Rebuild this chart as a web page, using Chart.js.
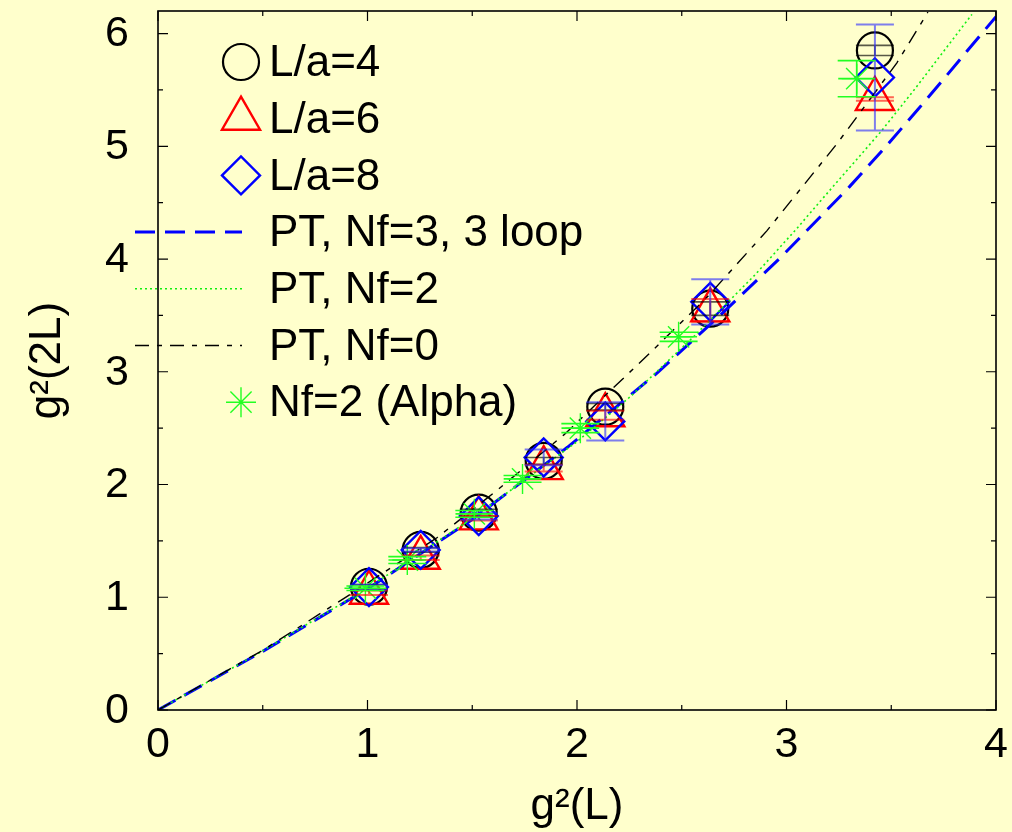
<!DOCTYPE html>
<html>
<head>
<meta charset="utf-8">
<title>g2(2L) vs g2(L)</title>
<script src="https://cdn.jsdelivr.net/npm/chart.js@4.4.1/dist/chart.umd.min.js"></script>
<style>
  html, body { margin: 0; padding: 0; background: #ffffcc; overflow: hidden; }
  #wrap { width: 1012px; height: 832px; }
  #stepChart { display: block; }
</style>
</head>
<body>
<div id="wrap"><canvas id="stepChart" width="1012" height="832"></canvas></div>
<script>
// coupling g^2(L) at which the step is measured (same for every L/a)
const couplingL = [1.007, 1.254, 1.531, 1.841, 2.135, 2.636, 3.422];

// g^2(2L) for each lattice size, with errors
const la4 = [1.093, 1.42, 1.75, 2.21, 2.69, 3.56, 5.85];
const la4Err = [0.02, 0.02, 0.03, 0.03, 0.03, 0.06, 0.045];
const la6 = [1.04, 1.35, 1.70, 2.145, 2.615, 3.545, 5.42];
const la6Err = [0.02, 0.02, 0.02, 0.03, 0.04, 0.1, 0.015];
const la8 = [1.09, 1.42, 1.72, 2.24, 2.56, 3.62, 5.61];
const la8Err = [0.02, 0.015, 0.03, 0.07, 0.17, 0.2, 0.47];

// ALPHA Nf=2 points (errors in both directions)
const alphaX = [0.99, 1.19, 1.51, 1.74, 2.016, 2.485, 3.335];
const alphaXErr = [0.1, 0.09, 0.09, 0.09, 0.09, 0.088, 0.088];
const alphaY = [1.08, 1.33, 1.74, 2.05, 2.50, 3.31, 5.60];
const alphaYErr = [0.02, 0.03, 0.03, 0.03, 0.04, 0.04, 0.16];

// perturbative curves
const pt3X = [0, 0.5, 1.0, 1.5, 1.954, 2.383, 2.683, 2.97, 3.30, 3.48, 3.629, 3.77, 3.86, 4.0];
const pt3Y = [0, 0.52, 1.075, 1.69, 2.33, 2.99, 3.50, 4.01, 4.64, 5.01, 5.33, 5.64, 5.84, 6.15];
const pt2X = [0, 0.5, 1.0, 1.5, 2.0, 2.255, 2.556, 2.85, 3.049, 3.16, 3.446, 3.605, 3.885];
const pt2Y = [0, 0.525, 1.08, 1.70, 2.38, 2.78, 3.31, 3.86, 4.27, 4.51, 5.12, 5.49, 6.17];
const pt0X = [0, 0.5, 0.888, 1.333, 1.619, 1.937, 2.35, 2.62, 2.906, 3.24, 3.527, 3.675];
const pt0Y = [0, 0.53, 0.99, 1.53, 1.95, 2.44, 3.17, 3.66, 4.25, 5.02, 5.74, 6.19];

// axis ticks that carry a label
const xLabels = [0, 1, 2, 3, 4];
const yLabels = [0, 1, 2, 3, 4, 5, 6];

const FONT = "'Liberation Sans', Arial, sans-serif";

const pts = (xs, ys) => xs.map((x, i) => ({x: x, y: ys[i]}));
const isHalf = v => Math.abs(v * 2 - Math.round(v * 2)) < 1e-6;
const isLabel = (list, v) => list.some(l => Math.abs(l - v) < 1e-6);

// error bars: vertical with caps, optional horizontal bar
const errorBars = {
  id: 'errorBars',
  afterDatasetsDraw(chart) {
    const {ctx, scales: {x, y}} = chart;
    ctx.save();
    chart.data.datasets.forEach(ds => {
      if (!ds.yErr) return;
      ctx.strokeStyle = ds.errColor;
      ctx.lineWidth = ds.errWidth;
      ctx.beginPath();
      ds.data.forEach((p, i) => {
        const px = x.getPixelForValue(p.x);
        const y1 = y.getPixelForValue(p.y + ds.yErr[i]);
        const y2 = y.getPixelForValue(p.y - ds.yErr[i]);
        const cap = 19;
        ctx.moveTo(px, y1); ctx.lineTo(px, y2);
        ctx.moveTo(px - cap, y1); ctx.lineTo(px + cap, y1);
        ctx.moveTo(px - cap, y2); ctx.lineTo(px + cap, y2);
        if (ds.xErr) {
          const py = y.getPixelForValue(p.y);
          ctx.moveTo(x.getPixelForValue(p.x - ds.xErr[i]), py);
          ctx.lineTo(x.getPixelForValue(p.x + ds.xErr[i]), py);
        }
      });
      ctx.stroke();
    });
    ctx.restore();
  }
};

// plot frame, inward ticks on all four sides, tick labels and titles
const frameTicks = {
  id: 'frameTicks',
  afterDraw(chart) {
    const {ctx, chartArea: a, scales: {x, y}} = chart;
    ctx.save();
    ctx.strokeStyle = '#000';
    ctx.lineWidth = 1.2;
    ctx.beginPath();
    x.ticks.forEach(t => {
      if (!isHalf(t.value)) return;
      const len = isLabel(xLabels, t.value) ? 10 : 5;
      const px = x.getPixelForValue(t.value);
      ctx.moveTo(px, a.bottom); ctx.lineTo(px, a.bottom - len);
      ctx.moveTo(px, a.top); ctx.lineTo(px, a.top + len);
    });
    y.ticks.forEach(t => {
      if (!isHalf(t.value)) return;
      const len = isLabel(yLabels, t.value) ? 10 : 5;
      const py = y.getPixelForValue(t.value);
      ctx.moveTo(a.left, py); ctx.lineTo(a.left + len, py);
      ctx.moveTo(a.right, py); ctx.lineTo(a.right - len, py);
    });
    ctx.stroke();
    ctx.lineWidth = 1.6;
    ctx.strokeRect(a.left, a.top, a.right - a.left, a.bottom - a.top);

    ctx.fillStyle = '#000';
    ctx.font = '43px ' + FONT;
    ctx.textBaseline = 'middle';
    ctx.textAlign = 'center';
    xLabels.forEach(v => ctx.fillText(String(v), x.getPixelForValue(v), a.bottom + 35));
    ctx.textAlign = 'right';
    yLabels.forEach(v => ctx.fillText(String(v), a.left - 29, y.getPixelForValue(v) + 1));

    // axis titles
    ctx.font = '44px ' + FONT;
    ctx.textAlign = 'center';
    ctx.textBaseline = 'alphabetic';
    ctx.fillText('g\u00b2(L)', (a.left + a.right) / 2, 819);
    ctx.translate(60, (a.top + a.bottom) / 2);
    ctx.rotate(-Math.PI / 2);
    ctx.fillText('g\u00b2(2L)', 0, 0);
    ctx.restore();
  }
};

// key in the upper left corner, markers right before the text
const keyBox = {
  id: 'keyBox',
  afterDraw(chart) {
    const {ctx, chartArea: a} = chart;
    const rowH = 56.7;
    const mx = a.left + 83;
    ctx.save();
    ctx.font = '44px ' + FONT;
    ctx.textBaseline = 'middle';
    ctx.textAlign = 'left';
    chart.data.datasets.forEach((ds, i) => {
      const cy = a.top + 51 + i * rowH;
      if (ds.showLine) {
        ctx.save();
        ctx.strokeStyle = ds.borderColor;
        ctx.lineWidth = ds.borderWidth;
        ctx.setLineDash(ds.borderDash || []);
        ctx.beginPath();
        ctx.moveTo(a.left - 23, cy);
        ctx.lineTo(mx + 1, cy);
        ctx.stroke();
        ctx.restore();
      } else {
        ctx.save();
        ctx.strokeStyle = ds.borderColor;
        ctx.fillStyle = 'rgba(0,0,0,0)';
        ctx.lineWidth = ds.borderWidth;
        Chart.helpers.drawPoint(ctx, {
          pointStyle: ds.pointStyle, radius: ds.pointRadius,
          borderWidth: ds.borderWidth, rotation: 0
        }, mx, cy);
        ctx.restore();
      }
      ctx.fillStyle = '#000';
      ctx.fillText(ds.label, a.left + 111, cy + 2);
    });
    ctx.restore();
  }
};

new Chart(document.getElementById('stepChart'), {
  type: 'scatter',
  data: {
    datasets: [
      {
        label: 'L/a=4', data: pts(couplingL, la4), yErr: la4Err,
        errColor: 'rgba(0,0,0,0.65)', errWidth: 1.6,
        pointStyle: 'circle', pointRadius: 18, borderWidth: 2.2,
        borderColor: '#000000', backgroundColor: 'rgba(0,0,0,0)', order: 7
      },
      {
        label: 'L/a=6', data: pts(couplingL, la6), yErr: la6Err,
        errColor: 'rgba(255,0,0,0.6)', errWidth: 2,
        pointStyle: 'triangle', pointRadius: 22, borderWidth: 2.4,
        borderColor: '#ff0000', backgroundColor: 'rgba(0,0,0,0)', order: 6
      },
      {
        label: 'L/a=8', data: pts(couplingL, la8), yErr: la8Err,
        errColor: 'rgba(40,40,255,0.6)', errWidth: 2,
        pointStyle: 'rectRot', pointRadius: 19, borderWidth: 2.4,
        borderColor: '#0000ff', backgroundColor: 'rgba(0,0,0,0)', order: 5
      },
      {
        label: 'PT, Nf=3, 3 loop', data: pts(pt3X, pt3Y), showLine: true,
        borderColor: '#0000ff', borderWidth: 3, borderDash: [20, 10],
        pointRadius: 0, fill: false, order: 4
      },
      {
        label: 'PT, Nf=2', data: pts(pt2X, pt2Y), showLine: true,
        borderColor: '#11ee11', borderWidth: 1.6, borderDash: [2, 3],
        pointRadius: 0, fill: false, order: 3
      },
      {
        label: 'PT, Nf=0', data: pts(pt0X, pt0Y), showLine: true,
        borderColor: '#000000', borderWidth: 1.4, borderDash: [14, 8, 5, 8],
        pointRadius: 0, fill: false, order: 2
      },
      {
        label: 'Nf=2 (Alpha)', data: pts(alphaX, alphaY),
        yErr: alphaYErr, xErr: alphaXErr,
        errColor: '#22ff22', errWidth: 1.6,
        pointStyle: 'star', pointRadius: 15, borderWidth: 1.4,
        borderColor: '#22ff22', backgroundColor: 'rgba(0,0,0,0)', order: 1
      }
    ]
  },
  options: {
    responsive: false,
    devicePixelRatio: 1,
    animation: false,
    events: [],
    layout: { autoPadding: false, padding: { top: 11, right: 16, left: 0, bottom: 0 } },
    plugins: { legend: { display: false }, tooltip: { enabled: false } },
    scales: {
      x: {
        type: 'linear', min: 0, max: 4,
        grid: { display: false, drawTicks: false },
        border: { display: false },
        ticks: { display: false, stepSize: 0.5 },
        afterFit: s => { s.height = 122; }
      },
      y: {
        type: 'linear', min: 0, max: 6.2,
        grid: { display: false, drawTicks: false },
        border: { display: false },
        ticks: { display: false, stepSize: 0.5 },
        afterFit: s => { s.width = 158; }
      }
    }
  },
  plugins: [errorBars, frameTicks, keyBox]
});
</script>
</body>
</html>
